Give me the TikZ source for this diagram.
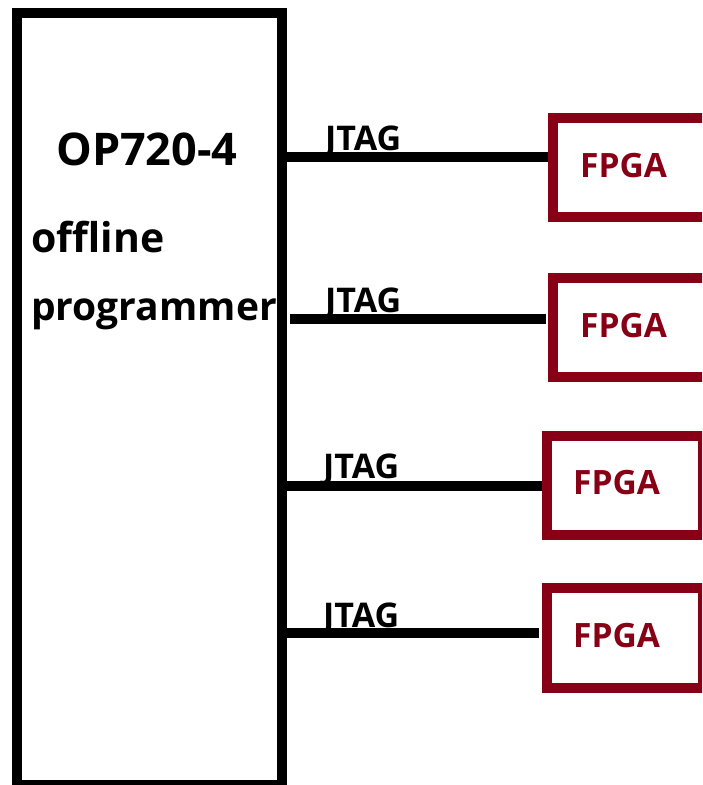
\documentclass[tikz,border=0pt]{standalone}
\usepackage{fontspec}
\setmainfont{Open Sans}
\definecolor{fpgared}{RGB}{136,0,21}
\tikzset{
  progbox/.style={draw=black, line width=10pt, inner sep=0pt, outer sep=0pt, fill=white},
  fpgabox/.style={draw=fpgared, line width=10pt, inner sep=0pt, outer sep=0pt, fill=white},
  link/.style={draw=black, line width=10pt},
  progtext/.style={anchor=base west, inner sep=0pt, font=\bfseries\fontsize{39}{44}\selectfont},
  jtag/.style={anchor=base west, inner sep=0pt, font=\bfseries\fontsize{34}{38}\selectfont},
  fpgatext/.style={anchor=base west, inner sep=0pt, text=fpgared, font=\bfseries\fontsize{33.5}{38}\selectfont},
}
\begin{document}
\begin{tikzpicture}[x=1pt, y=-1pt]
\useasboundingbox (0,0) rectangle (702,785);
\clip (0,0) rectangle (702,785);
\fill[white] (0,0) rectangle (702,785);
% programmer box
\node[progbox, minimum width=265pt, minimum height=772.5pt] (prog) at (149.5,398.75) {};
\node[progtext, font=\bfseries\fontsize{45}{50}\selectfont] (t1) at (56,165) {OP720-4};
\node[progtext, font=\bfseries\fontsize{41}{46}\selectfont] (t2) at (31,252) {offline};
\node[progtext] (t3) at (31,320) {programmer};
% FPGA boxes
\node[fpgabox, minimum width=157pt, minimum height=99pt] (f1) at (631.5,167.5) {};
\node[fpgabox, minimum width=157pt, minimum height=99pt] (f2) at (631.5,327.5) {};
\node[fpgabox, minimum width=156pt, minimum height=99pt] (f3) at (625,485.5) {};
\node[fpgabox, minimum width=156pt, minimum height=100pt] (f4) at (625,638) {};
\node[fpgatext] (l1) at (580,177) {FPGA};
\node[fpgatext] (l2) at (580,337) {FPGA};
\node[fpgatext] (l3) at (573,494) {FPGA};
\node[fpgatext] (l4) at (573,647) {FPGA};
% connectors
\draw[link, shorten >=5pt] (prog.east |- 0,157) -- (f1.west |- 0,157);
\draw[link, shorten <=8pt, shorten >=7pt] (prog.east |- 0,319) -- (f2.west |- 0,319);
\draw[link, shorten >=5pt] (prog.east |- 0,486) -- (f3.west |- 0,486);
\draw[link, shorten >=8pt] (prog.east |- 0,633) -- (f4.west |- 0,633);
% JTAG labels
\node[jtag] (j1) at (325,150) {JTAG};
\node[jtag] (j2) at (325,312) {JTAG};
\node[jtag] (j3) at (323,478) {JTAG};
\node[jtag] (j4) at (323,627) {JTAG};
\end{tikzpicture}
\end{document}
